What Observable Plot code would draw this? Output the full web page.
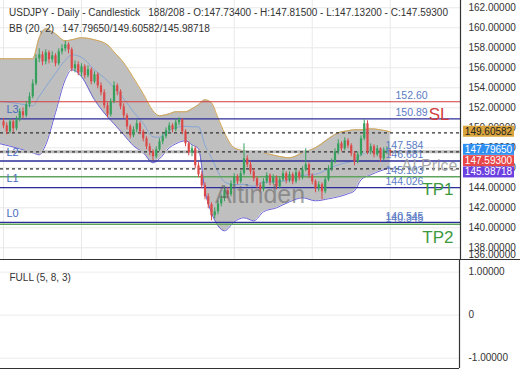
<!DOCTYPE html>
<html><head><meta charset="utf-8">
<script src="https://cdn.jsdelivr.net/npm/d3@7"></script>
<script src="https://cdn.jsdelivr.net/npm/@observablehq/plot@0.6"></script>
<style>
body{margin:0;background:#fff;font-family:"Liberation Sans",Arial,sans-serif;}
#wrap{position:relative;width:520px;height:390px;overflow:hidden;background:#fff;}
.t{position:absolute;left:9px;font-size:10px;line-height:12px;color:#333;white-space:pre;}
</style></head><body>
<div id="wrap">
<div id="main" style="position:absolute;left:0;top:0"></div>
<div id="sub" style="position:absolute;left:0;top:260px"></div>
<div class="t" style="top:7px">USDJPY - Daily - Candlestick   188/208 - O:147.73400 - H:147.81500 - L:147.13200 - C:147.59300</div>
<div class="t" style="top:23px">BB (20, 2)   147.79650/149.60582/145.98718</div>
</div>
<script>
// ---- candle data (daily) ----
const firstOpen = 150.6;
const closes = [150.2,149.6,150.6,149.9,150.8,151.6,151.2,152.3,153.1,154.4,
156.9,157.3,156.6,157.5,156.8,157.2,156.4,157.6,157.9,158.3,
157.8,155.9,156.3,155.5,156.1,155.2,155.8,154.6,155.3,154.2,
153.5,152.2,151.3,152.6,154.2,153.6,152.1,151.2,150.1,149.2,
149.8,150.4,149.6,148.9,148.1,147.6,147.1,147.8,148.6,149.1,
149.7,150.2,149.8,150.5,150.8,149.6,148.4,147.5,147.9,146.2,
145.3,144.2,143.1,142.3,141.2,141.6,142.4,142.9,143.7,143.3,
144.4,145.1,144.6,145.4,146.9,146.3,145.6,144.9,144.2,143.8,
144.6,145.2,144.5,145.0,144.1,144.8,145.4,144.7,145.3,144.6,
145.5,145.0,145.8,146.3,145.2,144.6,143.9,144.3,143.6,144.8,
145.9,146.6,147.6,148.4,147.9,148.7,148.2,147.4,146.6,147.3,
148.9,150.4,147.6,148.1,147.3,147.9,146.9,147.7,147.734,147.593];
const highs = [150.9,150.5,150.9,150.8,151.1,151.9,152.0,152.6,153.5,154.8,
157.3,157.9,157.6,157.8,157.7,157.6,157.4,157.9,158.3,158.66,
158.5,158.0,156.7,156.6,156.4,156.3,156.2,156.0,155.6,155.5,
154.5,153.8,152.5,152.9,154.6,154.4,153.8,152.4,151.4,150.3,
150.1,150.8,150.6,149.8,149.1,148.4,147.8,148.1,148.9,149.4,
150.0,150.5,150.4,150.8,151.0,150.9,149.8,148.6,148.2,148.1,
146.5,145.6,144.5,143.4,142.5,142.0,142.7,143.3,144.1,144.0,
144.7,145.4,145.3,145.7,148.4,147.2,146.6,145.9,145.1,144.5,
144.9,145.5,145.4,145.3,145.2,145.1,145.7,145.6,145.6,145.5,
145.8,145.7,146.1,147.9,146.5,145.4,144.8,144.6,144.5,145.1,
146.2,146.9,147.9,148.8,148.6,149.0,148.9,148.4,147.6,147.6,
149.2,150.8,150.7,148.4,148.3,148.2,148.0,148.0,148.1,147.815];
const lows = [149.9,149.3,149.4,149.5,149.7,150.6,150.9,151.0,152.0,152.9,
154.2,156.5,156.2,156.3,156.4,156.5,156.1,156.2,157.3,157.6,
157.4,155.6,155.5,155.2,155.1,154.9,155.0,154.3,154.4,153.9,
153.2,151.9,151.0,151.1,152.4,153.2,151.8,150.9,149.8,148.9,
149.0,149.5,149.3,148.6,147.8,147.2,146.7,146.9,147.6,148.3,
148.9,149.4,149.5,149.6,150.2,149.3,148.1,147.2,147.1,145.9,
145.0,143.9,142.8,141.9,140.7,140.9,141.3,142.1,142.6,142.9,
143.1,144.1,144.3,144.4,145.2,146.0,145.3,144.6,143.9,143.5,
143.6,144.4,144.2,144.3,143.8,143.9,144.6,144.4,144.5,144.3,
144.4,144.7,144.8,145.6,144.9,144.3,143.5,143.6,142.8,143.4,
144.6,145.6,146.4,147.3,147.6,147.7,147.9,147.1,146.2,146.4,
147.1,148.7,147.3,147.3,147.0,147.1,146.6,146.7,147.3,147.132];

// ---- Bollinger bands (20, 2), read at sample candles ----
const bbIdx = [-1,5,9,11,13,16,19,21,24,28,32,34,37,40,43,46,48,51,53,56,58,60,62,64,66,68,71,74,77,80,84,88,92,96,100,103,106,108,110,113,116,119];
const bbUpper = [156.9,156.9,156.9,159.0,159.9,159.4,158.7,158.8,159.0,158.8,
158.3,157.6,156.5,155.0,153.4,151.7,151.2,151.4,151.6,151.6,
151.9,152.3,152.8,152.5,151.0,149.5,148.0,147.7,147.6,147.5,
147.2,147.0,147.5,148.0,148.9,149.5,149.7,149.8,149.8,149.9,
149.8,149.60582];
const bbMid = [152.65,152.4,152.2,153.15,154.1,155.45,156.75,157.3,157.05,155.8,
154.7,154.0,152.9,151.6,150.45,149.1,149.05,149.7,150.0,150.15,
150.1,150.1,148.25,147.0,145.6,144.6,144.3,144.35,144.15,144.55,
144.6,144.8,145.25,145.35,145.9,146.3,146.55,146.75,147.3,147.6,
147.75,147.7965];
const bbLower = [148.4,147.9,147.5,147.3,148.3,151.5,154.8,155.8,155.1,152.8,
151.1,150.4,149.3,148.2,147.5,146.5,146.9,148.0,148.4,148.7,
148.3,147.9,143.7,141.5,140.2,139.7,140.6,141.0,140.7,141.6,
142.0,142.6,143.0,142.7,142.9,143.1,143.4,143.7,144.8,145.3,
145.7,145.98718];

// ---- levels ----
const slLevels = [152.60];
const lLevels = [150.89, 146.681, 144.026, 140.545];
const lNames = ["L3", "L2", "L1", "L0"];
const tpLevels = [145.103, 140.345];
const tpNames = ["TP1", "TP2"];
const dashLevels = [149.5, 147.584, 145.9];
const levelTags2 = [152.60, 150.89];
const levelTags3 = [147.584, 146.681, 145.103, 144.026, 140.545, 140.345];
const yTicks = [138,140,142,144,146,148,150,152,154,156,158,160,162];
const gridIdx = [0, 24, 47, 71, 95, 119];
const oscTicks = [-1, 0, 1];
const watermark = "Altinden";

const candles = closes.map((c, i) => ({i, open: i ? closes[i-1] : firstOpen, close: c, high: highs[i], low: lows[i]}));
const bb = bbIdx.map((i, k) => ({i, u: bbUpper[k], m: bbMid[k], l: bbLower[k]}));
const lastClose = closes[closes.length - 1];
const UP = "#35a05c", DN = "#dc4848";
const col = d => d.close >= d.open ? UP : DN;
const FONT = '"Liberation Sans", Arial, sans-serif';
const xMin = -0.923, xMax = 140.62;

const main = Plot.plot({
  width: 520, height: 260, marginLeft: 0, marginRight: 60, marginTop: 0, marginBottom: 0,
  style: {fontFamily: FONT, fontSize: "10px", color: "#333", background: "transparent", overflow: "visible"},
  x: {domain: [xMin, xMax], axis: null},
  y: {domain: [136.73, 162.73], axis: "right", ticks: yTicks, tickFormat: d => d.toFixed(5), tickSize: 0, tickPadding: 8, label: null},
  marks: [
    Plot.ruleY(yTicks, {stroke: "#e9e9e9"}),
    Plot.ruleX(gridIdx, {stroke: "#e9e9e9"}),
    Plot.areaY(bb, {x: "i", y1: "l", y2: "u", fill: "#bfbfbf", curve: "monotone-x"}),
    Plot.lineY(bb, {x: "i", y: "u", stroke: "#d5a650", strokeWidth: 1, curve: "monotone-x"}),
    Plot.lineY(bb, {x: "i", y: "l", stroke: "#6a62d4", strokeWidth: 1, curve: "monotone-x"}),
    Plot.lineY(bb, {x: "i", y: "m", stroke: "#86a6d6", strokeWidth: 1, curve: "monotone-x"}),
    Plot.ruleY([lastClose], {stroke: "#bdbdbd", strokeWidth: 3}),
    Plot.ruleY(slLevels, {stroke: "#d23c3c", strokeWidth: 1.1}),
    Plot.ruleY(lLevels, {stroke: "#2d2d9a", strokeWidth: 1.3}),
    Plot.ruleY(tpLevels, {stroke: "#5fa35f", strokeWidth: 1.5}),
    Plot.ruleY(dashLevels, {stroke: "#333", strokeDasharray: "3,3", strokeWidth: 1.2}),
    Plot.ruleX(candles, {x: "i", y1: "low", y2: "high", stroke: col, strokeWidth: 1}),
    Plot.ruleX(candles, {x: "i", y1: "open", y2: "close", stroke: col, strokeWidth: 2.2}),
    Plot.text(levelTags2, {y: d => d, text: d => d.toFixed(2), frameAnchor: "right", dx: -65, dy: -6, textAnchor: "start", fill: "#5b7bc4", fontSize: 10.5}),
    Plot.text(levelTags3, {y: d => d, text: d => d.toFixed(3), frameAnchor: "right", dx: -75, dy: -6, textAnchor: "start", fill: "#5b7bc4", fontSize: 10.5}),
    Plot.text(lLevels, {y: d => d, text: (d, k) => lNames[k], frameAnchor: "left", dx: 6, dy: -9, textAnchor: "start", fill: "#4a6cc0", fontSize: 11}),
    Plot.text(slLevels, {y: d => d, text: () => "SL", frameAnchor: "right", dx: -11, dy: 13, textAnchor: "end", fill: "#d23c3c", fontSize: 17}),
    Plot.text(tpLevels, {y: d => d, text: (d, k) => tpNames[k], frameAnchor: "right", dx: -7, dy: 13, textAnchor: "end", fill: "#3e9a3e", fontSize: 17}),
    Plot.text([lastClose], {y: d => d, text: () => "AI Price", frameAnchor: "right", dx: -3, dy: 14, textAnchor: "end", fill: "#9c9c9c", fillOpacity: 0.85, fontSize: 16}),
    Plot.text(["136.00000"], {text: d => d, frameAnchor: "bottom-right", dx: 8, dy: -3, textAnchor: "start", fill: "#333", fontSize: 10}),
    Plot.ruleX([xMax], {stroke: "#333", strokeWidth: 1.2})
  ]
});
document.getElementById("main").appendChild(main);

const svg = d3.select(main);
// watermark text
svg.append("text").attr("x", 215).attr("y", 194).attr("dy", "0.35em").attr("text-anchor", "start")
  .attr("font-family", FONT).attr("font-size", 25).attr("fill", "#5e5e5e").attr("fill-opacity", 0.55)
  .attr("textLength", 90).attr("lengthAdjust", "spacingAndGlyphs").text(watermark);

// price tags on the right axis, using the plot's own y scale
const sy = main.scale("y");
const tags = [
  {v: bbUpper[bbUpper.length-1], bg: "#d9a43c", fg: "#222"},
  {v: bbMid[bbMid.length-1], bg: "#2f8ff0", fg: "#fff"},
  {v: lastClose, bg: "#e8474a", fg: "#fff"},
  {v: bbLower[bbLower.length-1], bg: "#6b40e0", fg: "#fff"}
].sort((a, b) => b.v - a.v);
let prev = -Infinity;
for (const t of tags) {
  const y = Math.max(sy.apply(t.v), prev + 11.3);
  prev = y;
  svg.append("rect").attr("x", 463).attr("y", y - 5.5).attr("width", 51).attr("height", 11).attr("fill", t.bg);
  svg.append("text").attr("x", 488.5).attr("y", y).attr("dy", "0.35em").attr("text-anchor", "middle")
    .attr("fill", t.fg).attr("font-size", 10).attr("font-family", FONT).text(t.v.toFixed(5));
}
svg.append("line").attr("x1", 0).attr("x2", 520).attr("y1", 259.5).attr("y2", 259.5).attr("stroke", "#333").attr("stroke-width", 1.2);

// lower oscillator panel
const sub = Plot.plot({
  width: 520, height: 130, marginLeft: 0, marginRight: 61, marginTop: 0, marginBottom: 22,
  style: {fontFamily: FONT, fontSize: "10px", color: "#333", background: "transparent", overflow: "visible"},
  x: {domain: [0, 1], axis: null},
  y: {domain: [-1.24, 1.27], axis: "right", ticks: oscTicks, tickFormat: d => d === 0 ? "0" : d.toFixed(5), tickSize: 0, tickPadding: 9, label: null},
  marks: [
    Plot.ruleY(oscTicks, {stroke: "#ececec"}),
    Plot.ruleY([-1.24], {stroke: "#333", strokeWidth: 1.2}),
    Plot.ruleX([1], {stroke: "#333", strokeWidth: 1.2}),
    Plot.text(["FULL (5, 8, 3)"], {text: d => d, frameAnchor: "top-left", dx: 9, dy: 13, textAnchor: "start", fill: "#333", fontSize: 10})
  ]
});
document.getElementById("sub").appendChild(sub);
</script>
</body></html>
